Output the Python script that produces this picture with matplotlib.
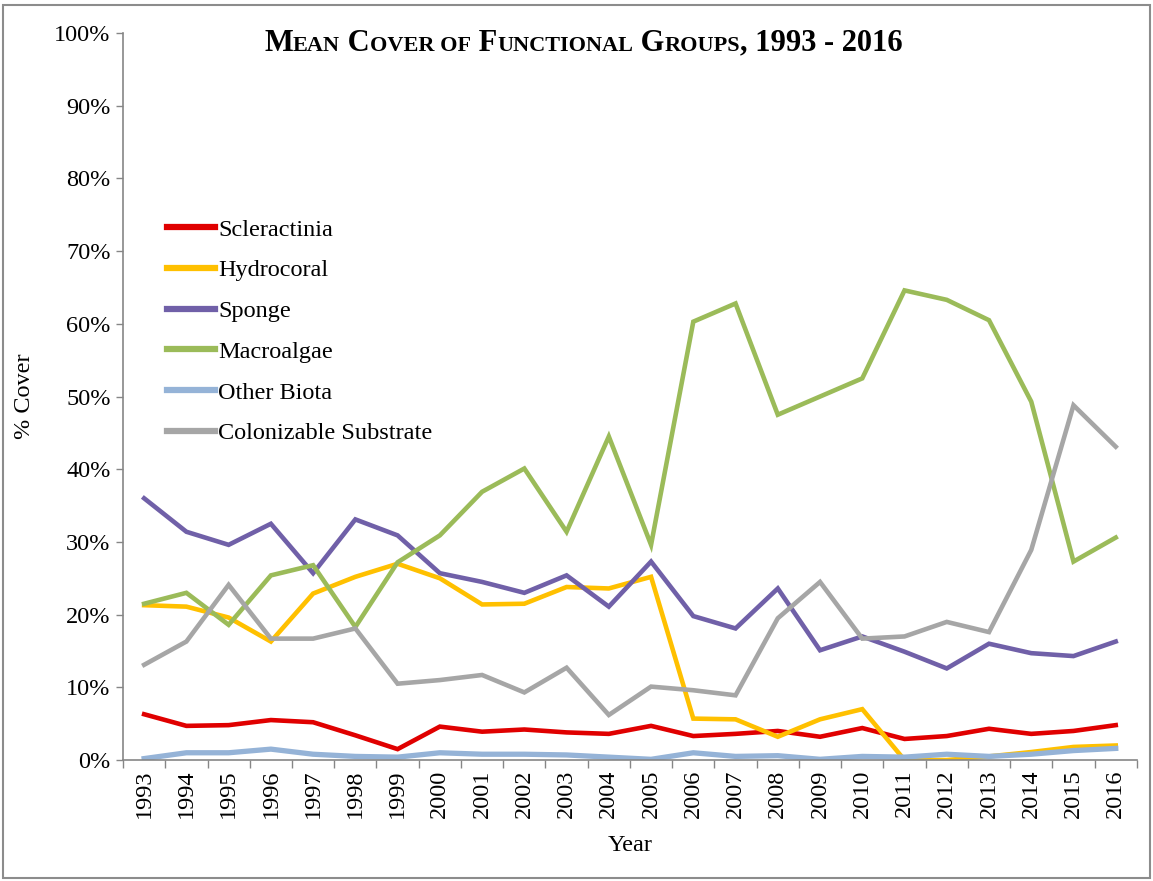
import matplotlib
matplotlib.use("Agg")
import matplotlib.pyplot as plt
from matplotlib.offsetbox import TextArea, HPacker, AnnotationBbox
from matplotlib.patches import Rectangle
from matplotlib.ticker import FuncFormatter, FixedLocator

# data (% cover)
years = list(range(1993, 2017))
scleractinia = [6.3, 4.7, 4.8, 5.5, 5.2, 3.4, 1.5, 4.6, 3.9, 4.2, 3.8, 3.6,
                4.7, 3.3, 3.6, 4.0, 3.2, 4.4, 2.9, 3.3, 4.3, 3.6, 4.0, 4.8]
hydrocoral = [21.3, 21.1, 19.6, 16.3, 22.9, 25.2, 27.0, 25.0, 21.4, 21.5, 23.8, 23.6,
              25.2, 5.7, 5.6, 3.2, 5.6, 7.0, 0.0, 0.0, 0.5, 1.1, 1.8, 2.0]
sponge = [36.0, 31.4, 29.6, 32.5, 25.7, 33.1, 30.9, 25.7, 24.5, 23.0, 25.4, 21.1,
          27.3, 19.8, 18.1, 23.6, 15.1, 17.0, 14.9, 12.6, 16.0, 14.7, 14.3, 16.3]
macroalgae = [21.5, 23.0, 18.6, 25.4, 26.8, 18.3, 27.2, 30.9, 36.9, 40.1, 31.4, 44.5,
              29.6, 60.3, 62.8, 47.5, 50.0, 52.5, 64.6, 63.3, 60.5, 49.3, 27.3, 30.6]
other_biota = [0.2, 1.0, 1.0, 1.5, 0.8, 0.5, 0.4, 1.0, 0.8, 0.8, 0.7, 0.4,
               0.1, 1.0, 0.5, 0.6, 0.1, 0.5, 0.4, 0.8, 0.5, 0.8, 1.3, 1.6]
colonizable = [13.1, 16.3, 24.1, 16.7, 16.7, 18.1, 10.5, 11.0, 11.7, 9.3, 12.7, 6.2,
               10.1, 9.6, 8.9, 19.5, 24.5, 16.7, 17.0, 19.0, 17.6, 28.9, 48.8, 43.1]

series = [
    ("Scleractinia", scleractinia, "#E00000", 3.3),
    ("Hydrocoral", hydrocoral, "#FFC000", 3.3),
    ("Sponge", sponge, "#7060A8", 3.3),
    ("Macroalgae", macroalgae, "#9BBB59", 3.3),
    ("Other Biota", other_biota, "#95B3D7", 3.8),
    ("Colonizable Substrate", colonizable, "#A6A6A6", 3.3),
]

plt.rcParams["font.family"] = ["Liberation Serif", "DejaVu Serif"]
fs = 17.5

fig = plt.figure(figsize=(11.53, 8.81), dpi=100)
ax = fig.add_axes([0.1067, 0.1373, 0.8793, 0.8252])

x = list(range(len(years)))
for name, vals, col, lw in series:
    ax.plot(x, vals, color=col, lw=lw, label=name, solid_joinstyle="miter")

ax.set_xlim(-0.5, len(years) - 0.5)
ax.set_ylim(0, 100)

# y axis
ax.set_yticks(range(0, 101, 10))
ax.yaxis.set_major_formatter(FuncFormatter(lambda v, p: f"{int(v)}%"))
ax.tick_params(axis="y", direction="out", length=5, width=1, color="#868686",
               labelsize=fs, pad=4)

# x axis: labels at centres, tick marks between categories
ax.set_xticks(x)
ax.set_xticklabels([str(y) for y in years], rotation=90, fontsize=fs)
ax.tick_params(axis="x", which="major", length=0, pad=7)
ax.xaxis.set_minor_locator(FixedLocator([i - 0.5 for i in range(len(years) + 1)]))
ax.tick_params(axis="x", which="minor", direction="out", length=6, width=1,
               color="#868686")

for s in ["top", "right"]:
    ax.spines[s].set_visible(False)
for s in ["left", "bottom"]:
    ax.spines[s].set_color("#868686")
    ax.spines[s].set_linewidth(1.2)

ax.set_xlabel("Year", fontsize=fs, labelpad=12)
ax.set_ylabel("% Cover", fontsize=fs, labelpad=14)

leg = ax.legend(loc="upper left", bbox_to_anchor=(0.034, 0.758), frameon=False,
                fontsize=fs, handlelength=1.95, handletextpad=0.15,
                labelspacing=0.77, borderaxespad=0)
for h in leg.get_lines():
    h.set_linewidth(4.5)

# title in small caps
big, small = 22, 16
parts = [("M", big), ("EAN", small), (" C", big), ("OVER OF", small),
         (" F", big), ("UNCTIONAL", small), (" G", big), ("ROUPS", small),
         (", 1993 - 2016", big)]
areas = [TextArea(t, textprops=dict(fontsize=s, fontweight="bold",
                                    family=["Liberation Serif"]))
         for t, s in parts]
title = HPacker(children=areas, align="baseline", pad=0, sep=0)
ab = AnnotationBbox(title, (0.506, 0.951), xycoords="figure fraction",
                    frameon=False, box_alignment=(0.5, 0.5))
fig.add_artist(ab)

# outer frame
fig.add_artist(Rectangle((0.003, 0.003), 0.994, 0.991, transform=fig.transFigure,
                         fill=False, edgecolor="#8c8c8c", lw=1.5))

fig.savefig("out.png", dpi=100)
